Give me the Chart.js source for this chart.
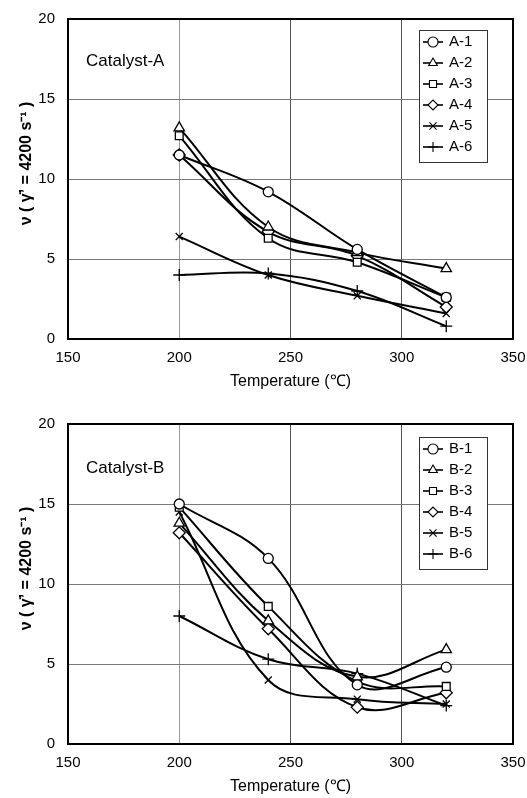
<!DOCTYPE html>
<html>
<head>
<meta charset="utf-8">
<script src="https://cdn.jsdelivr.net/npm/chart.js"></script>
<style>
  body { margin: 0; background: #fff; }
  canvas { display: block; }
</style>
</head>
<body>
<canvas id="chartA" width="527" height="392"></canvas>
<canvas id="chartB" width="527" height="406"></canvas>
<script>
// Measurement temperatures (°C)
const temperatures = [200, 240, 280, 320];

// Catalyst-A runs
const namesA = ["A-1", "A-2", "A-3", "A-4", "A-5", "A-6"];
const a1 = [11.5, 9.2, 5.6, 2.6];
const a2 = [13.2, 7.0, 5.4, 4.4];
const a3 = [12.7, 6.3, 4.8, 2.6];
const a4 = [11.5, 6.7, 5.2, 2.0];
const a5 = [6.4, 4.0, 2.7, 1.6];
const a6 = [4.0, 4.1, 3.0, 0.8];

// Catalyst-B runs
const namesB = ["B-1", "B-2", "B-3", "B-4", "B-5", "B-6"];
const b1 = [15.0, 11.6, 3.7, 4.8];
const b2 = [13.8, 7.7, 4.2, 5.9];
const b3 = [14.8, 8.6, 3.9, 3.6];
const b4 = [13.2, 7.2, 2.3, 3.2];
const b5 = [14.5, 4.0, 2.8, 2.5];
const b6 = [8.0, 5.3, 4.4, 2.4];

const xTicks = [150, 200, 250, 300, 350];
const yTicks = [0, 5, 10, 15, 20];

const FONT = "'Liberation Sans', Arial, sans-serif";
const markers = [
  { style: "circle", r: 5 },
  { style: "triangle", r: 6 },
  { style: "rect", r: 5.5 },
  { style: "rectRot", r: 6 },
  { style: "crossRot", r: 5 },
  { style: "cross", r: 6 },
];

// frame around the plot, caption and the line+marker legend box
const frameAndLegend = {
  id: "frameAndLegend",
  afterDatasetsDraw(chart, args, opts) {
    const { ctx, chartArea: a } = chart;
    ctx.save();
    ctx.strokeStyle = "#000";
    ctx.lineWidth = 2;
    ctx.strokeRect(a.left, a.top, a.right - a.left, a.bottom - a.top);

    ctx.fillStyle = "#000";
    ctx.font = "17px " + FONT;
    ctx.textAlign = "left";
    ctx.textBaseline = "middle";
    ctx.fillText(opts.caption, a.left + 18, a.top + 42 + opts.shift);

    const boxL = a.right - 94, boxT = a.top + 11 + opts.shift, rowH = 21;
    const n = chart.data.datasets.length;
    const boxH = n * rowH + 6;
    ctx.fillStyle = "#fff";
    ctx.fillRect(boxL, boxT, 68, boxH);
    ctx.lineWidth = 1;
    ctx.strokeStyle = "#333";
    ctx.strokeRect(boxL + 0.5, boxT + 0.5, 68, boxH);

    chart.data.datasets.forEach((ds, i) => {
      const y = boxT + 12 + i * rowH;
      ctx.beginPath();
      ctx.moveTo(boxL + 4, y);
      ctx.lineTo(boxL + 24, y);
      ctx.lineWidth = 1.6;
      ctx.strokeStyle = "#000";
      ctx.stroke();
      ctx.fillStyle = "#fff";
      ctx.lineWidth = 1.1;
      Chart.helpers.drawPoint(ctx, { pointStyle: ds.pointStyle, radius: 5, borderWidth: 1.1, rotation: 0 }, boxL + 14, y);
      ctx.fillStyle = "#000";
      ctx.font = "15px " + FONT;
      ctx.fillText(ds.label, boxL + 30, y);
    });
    ctx.restore();
  },
};

// fixed axis sizes, no extra room reserved for edge labels
const fixSize = (prop, size) => (s) => {
  s[prop] = size;
  s.paddingTop = 0;
  s.paddingBottom = 0;
  s.paddingLeft = 0;
  s.paddingRight = 0;
};

function makeChart(id, caption, names, series, padTop, padBottom, shift) {
  const datasets = series.map((vals, i) => ({
    label: names[i],
    data: temperatures.map((t, j) => ({ x: t, y: vals[j] })),
    borderColor: "#000",
    borderWidth: 2,
    tension: 0.38,
    pointStyle: markers[i].style,
    pointRadius: markers[i].r,
    pointBackgroundColor: "#fff",
    pointBorderColor: "#000",
    pointBorderWidth: 1.3,
  }));

  return new Chart(document.getElementById(id), {
    type: "line",
    data: { datasets },
    plugins: [frameAndLegend],
    options: {
      responsive: false,
      animation: false,
      devicePixelRatio: 1,
      layout: { padding: { left: 17, right: 14, top: padTop, bottom: padBottom } },
      plugins: {
        legend: { display: false },
        tooltip: { enabled: false },
        frameAndLegend: { caption, shift },
      },
      scales: {
        x: {
          type: "linear",
          min: xTicks[0],
          max: xTicks[xTicks.length - 1],
          afterBuildTicks: (s) => { s.ticks = xTicks.map((v) => ({ value: v })); },
          afterFit: fixSize("height", 52),
          ticks: { color: "#000", padding: 10, font: { family: FONT, size: 15 } },
          grid: {
            drawTicks: false,
            lineWidth: 1,
            color: (c) => (c.tick && c.tick.value === 200 ? "#9a9a9a" : "#555"),
          },
          border: { color: "#000", width: 2 },
          title: {
            display: true,
            text: "Temperature (℃)",
            color: "#000",
            padding: 0,
            font: { family: FONT, size: 16 },
          },
        },
        y: {
          min: yTicks[0],
          max: yTicks[yTicks.length - 1],
          afterBuildTicks: (s) => { s.ticks = yTicks.map((v) => ({ value: v })); },
          afterFit: fixSize("width", 51),
          ticks: { color: "#000", padding: 13, font: { family: FONT, size: 15 } },
          grid: { drawTicks: false, lineWidth: 1, color: "#777" },
          border: { color: "#000", width: 2 },
          title: {
            display: true,
            // leading spaces lift the rotated title a little above the axis centre
            text: "       ν ( γ̇’ = 4200 s⁻¹ )",
            color: "#000",
            padding: 0,
            font: { family: FONT, size: 16, weight: "bold" },
          },
        },
      },
    },
  });
}

makeChart("chartA", "Catalyst-A", namesA, [a1, a2, a3, a4, a5, a6], 19, 1, 0);
makeChart("chartB", "Catalyst-B", namesB, [b1, b2, b3, b4, b5, b6], 32, 2, 2);
</script>
</body>
</html>
